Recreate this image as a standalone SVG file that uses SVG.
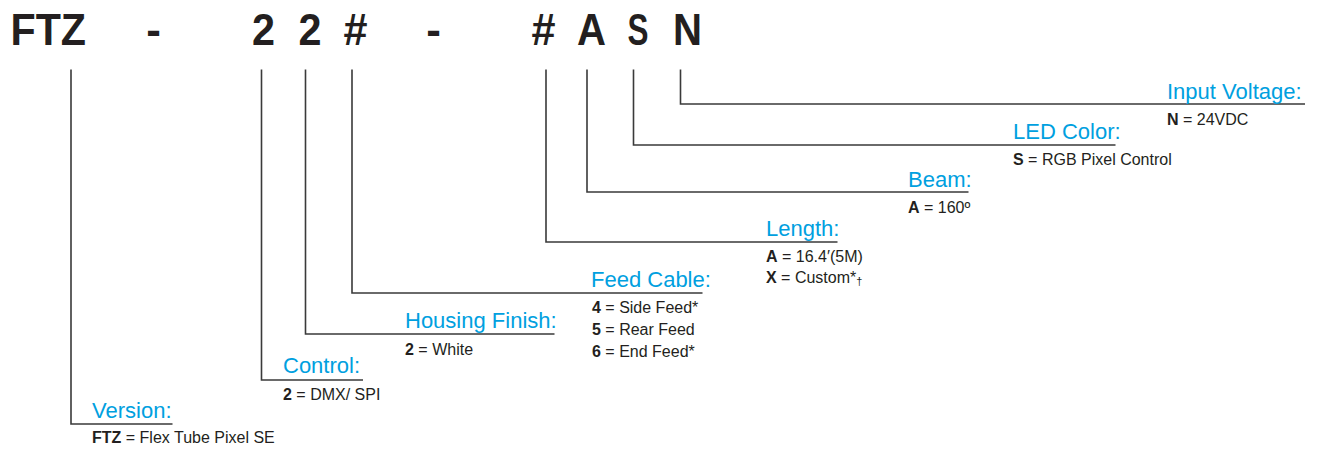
<svg xmlns="http://www.w3.org/2000/svg" width="1318" height="452" viewBox="0 0 1318 452">
<style>
.hd{font-family:"Liberation Sans",Arial,sans-serif;font-weight:bold;font-size:44px;fill:#231f20;text-anchor:middle}
.lb{font-family:"Liberation Sans",Arial,sans-serif;font-size:22px;fill:#00a0df}
.vl{font-family:"Liberation Sans",Arial,sans-serif;font-size:16px;fill:#231f20}
.vl tspan.b{font-weight:bold}
.ln{fill:none;stroke:#3a3a3a;stroke-width:1.6}
</style>
<rect width="1318" height="452" fill="#ffffff"/>
<g id="header">
<text class="hd" x="10.5" y="44.5" style="text-anchor:start" textLength="75.5" lengthAdjust="spacingAndGlyphs">FTZ</text>
<text class="hd" x="153.5" y="44.5">-</text>
<text class="hd" x="263.5" y="44.5" textLength="23" lengthAdjust="spacingAndGlyphs">2</text>
<text class="hd" x="310" y="44.5" textLength="23" lengthAdjust="spacingAndGlyphs">2</text>
<text class="hd" x="355.5" y="44.5" textLength="24" lengthAdjust="spacingAndGlyphs">#</text>
<text class="hd" x="433.5" y="44.5">-</text>
<text class="hd" x="543.5" y="44.5" textLength="24" lengthAdjust="spacingAndGlyphs">#</text>
<text class="hd" x="591.5" y="44.5" textLength="29" lengthAdjust="spacingAndGlyphs">A</text>
<text class="hd" x="638" y="44.5" textLength="21" lengthAdjust="spacingAndGlyphs">S</text>
<text class="hd" x="687.5" y="44.5" textLength="29" lengthAdjust="spacingAndGlyphs">N</text>
</g>
<g id="connectors">
<path class="ln" d="M71 69.5V424H172.5"/>
<path class="ln" d="M261.5 69.5V380H363"/>
<path class="ln" d="M305.5 69.5V334H554.5"/>
<path class="ln" d="M352 69.5V293H702.5"/>
<path class="ln" d="M546 69.5V242H837.5"/>
<path class="ln" d="M587 69.5V192H968.5"/>
<path class="ln" d="M633.5 69.5V145H1115.5"/>
<path class="ln" d="M680.5 69.5V104H1305"/>
</g>
<g id="input-voltage">
<text class="lb" x="1167" y="99">Input Voltage:</text>
<text class="vl" x="1167" y="125"><tspan class="b">N</tspan> = 24VDC</text>
</g>
<g id="led-color">
<text class="lb" x="1013" y="139">LED Color:</text>
<text class="vl" x="1013" y="165"><tspan class="b">S</tspan> = RGB Pixel Control</text>
</g>
<g id="beam">
<text class="lb" x="908" y="187">Beam:</text>
<text class="vl" x="908" y="213"><tspan class="b">A</tspan> = 160º</text>
</g>
<g id="length">
<text class="lb" x="766" y="236">Length:</text>
<text class="vl" x="766" y="262"><tspan class="b">A</tspan> = 16.4′(5M)</text>
<text class="vl" x="766" y="283"><tspan class="b">X</tspan> = Custom*<tspan font-size="11" dy="2">†</tspan></text>
</g>
<g id="feed-cable">
<text class="lb" x="591" y="287">Feed Cable:</text>
<text class="vl" x="592" y="313"><tspan class="b">4</tspan> = Side Feed*</text>
<text class="vl" x="592" y="335"><tspan class="b">5</tspan> = Rear Feed</text>
<text class="vl" x="592" y="357"><tspan class="b">6</tspan> = End Feed*</text>
</g>
<g id="housing-finish">
<text class="lb" x="405" y="328">Housing Finish:</text>
<text class="vl" x="405" y="355"><tspan class="b">2</tspan> = White</text>
</g>
<g id="control">
<text class="lb" x="283" y="373">Control:</text>
<text class="vl" x="283" y="400"><tspan class="b">2</tspan> = DMX/ SPI</text>
</g>
<g id="version">
<text class="lb" x="92" y="418">Version:</text>
<text class="vl" x="92" y="443"><tspan class="b">FTZ</tspan> = Flex Tube Pixel SE</text>
</g>
</svg>
